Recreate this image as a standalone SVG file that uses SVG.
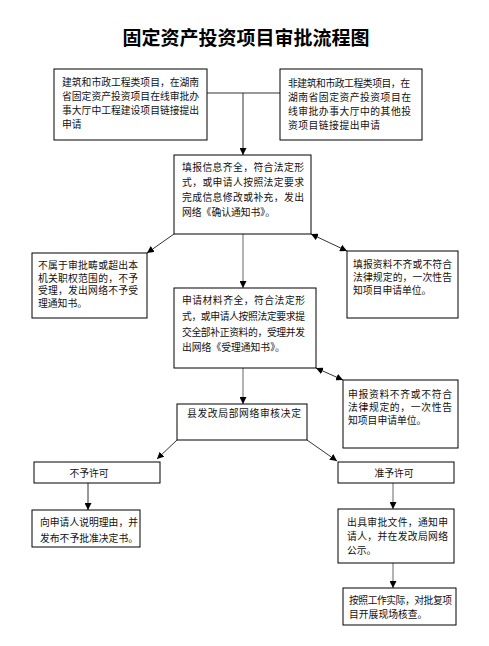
<svg xmlns="http://www.w3.org/2000/svg" width="489" height="646" viewBox="0 0 489 646">
<style>
.bg{fill:#fff}
.box{fill:#fff;stroke:#000;stroke-width:1}
.t{font-family:"Noto Sans CJK SC","Liberation Sans",sans-serif;font-size:9.8px;fill:#111}
.title{font-family:"Noto Sans CJK SC","Liberation Sans",sans-serif;font-size:19px;font-weight:700;fill:#000}
.c{fill:none;stroke:#333;stroke-width:1}
.g{fill:none;stroke:#666;stroke-width:1}
</style>
<defs>
<marker id="ah" viewBox="0 0 10 10" refX="10" refY="5" markerWidth="7" markerHeight="7" markerUnits="userSpaceOnUse" orient="auto-start-reverse">
<path d="M0,0 L10,5 L0,10 z" fill="#000"/>
</marker>
</defs>
<rect class="bg" x="0" y="0" width="489" height="646"/>
<text class="title" x="246" y="45" text-anchor="middle">固定资产投资项目审批流程图</text>

<g id="connectors">
<line class="c" x1="207" y1="93" x2="280" y2="93"/>
<line class="c" x1="243" y1="93" x2="243" y2="155" marker-end="url(#ah)"/>
<line class="c" x1="174" y1="234" x2="147" y2="253" marker-end="url(#ah)"/>
<line class="c" x1="311" y1="234" x2="347" y2="251" marker-start="url(#ah)" marker-end="url(#ah)"/>
<line class="g" x1="243" y1="234" x2="243" y2="288" marker-end="url(#ah)"/>
<line class="c" x1="316" y1="368" x2="343" y2="380" marker-start="url(#ah)" marker-end="url(#ah)"/>
<line class="g" x1="243" y1="368" x2="243" y2="404" marker-end="url(#ah)"/>
<line class="c" x1="177" y1="440" x2="157" y2="459" marker-end="url(#ah)"/>
<line class="c" x1="307" y1="440" x2="337" y2="461" marker-end="url(#ah)"/>
<line class="c" x1="88" y1="483" x2="88" y2="510" marker-end="url(#ah)"/>
<line class="g" x1="393" y1="483" x2="393" y2="509" marker-end="url(#ah)"/>
<line class="g" x1="393" y1="563" x2="393" y2="588" marker-end="url(#ah)"/>
</g>

<g id="n1">
<rect class="box" x="54" y="69" width="153" height="71"/>
<text class="t"><tspan x="62" y="86">建筑和市政工程类项目，在湖南</tspan><tspan x="62" y="100">省固定资产投资项目在线审批办</tspan><tspan x="62" y="114">事大厅中工程建设项目链接提出</tspan><tspan x="62" y="128">申请</tspan></text>
</g>
<g id="n2">
<rect class="box" x="280" y="69" width="142" height="71"/>
<text class="t"><tspan x="288" y="87" textLength="122" lengthAdjust="spacing">非建筑和市政工程类项目，在</tspan><tspan x="288" y="101" textLength="123" lengthAdjust="spacing">湖南省固定资产投资项目在</tspan><tspan x="288" y="115" textLength="123" lengthAdjust="spacing">线审批办事大厅中的其他投</tspan><tspan x="288" y="129" textLength="92" lengthAdjust="spacing">资项目链接提出申请</tspan></text>
</g>
<g id="n3">
<rect class="box" x="174" y="155" width="137" height="79"/>
<text class="t"><tspan x="182" y="171" textLength="122" lengthAdjust="spacing">填报信息齐全，符合法定形</tspan><tspan x="182" y="186" textLength="122" lengthAdjust="spacing">式，或申请人按照法定要求</tspan><tspan x="182" y="201" textLength="122" lengthAdjust="spacing">完成信息修改或补充，发出</tspan><tspan x="182" y="216">网络《确认通知书》。</tspan></text>
</g>
<g id="n4">
<rect class="box" x="32" y="253" width="115" height="65"/>
<text class="t"><tspan x="38" y="269" textLength="100" lengthAdjust="spacing">不属于审批畴或超出本</tspan><tspan x="38" y="281.5" textLength="100" lengthAdjust="spacing">机关职权范围的，不予</tspan><tspan x="38" y="294" textLength="100" lengthAdjust="spacing">受理，发出网络不予受</tspan><tspan x="38" y="306.5">理通知书。</tspan></text>
</g>
<g id="n5">
<rect class="box" x="347" y="251" width="111" height="67"/>
<text class="t"><tspan x="353" y="268" textLength="99" lengthAdjust="spacing">填报资料不齐或不符合</tspan><tspan x="353" y="281" textLength="99" lengthAdjust="spacing">法律规定的，一次性告</tspan><tspan x="353" y="294">知项目申请单位。</tspan></text>
</g>
<g id="n6">
<rect class="box" x="174" y="288" width="142" height="80"/>
<text class="t"><tspan x="182" y="304" textLength="123" lengthAdjust="spacing">申请材料齐全，符合法定形</tspan><tspan x="182" y="320" textLength="123" lengthAdjust="spacing">式，或申请人按照法定要求提</tspan><tspan x="182" y="336" textLength="123" lengthAdjust="spacing">交全部补正资料的，受理并发</tspan><tspan x="182" y="351">出网络《受理通知书》。</tspan></text>
</g>
<g id="n7">
<rect class="box" x="343" y="380" width="115" height="68"/>
<text class="t"><tspan x="348" y="398" textLength="104" lengthAdjust="spacing">申报资料不齐或不符合</tspan><tspan x="348" y="411" textLength="104" lengthAdjust="spacing">法律规定的，一次性告</tspan><tspan x="348" y="424">知项目申请单位。</tspan></text>
</g>
<g id="n8">
<rect class="box" x="177" y="404" width="130" height="36"/>
<text class="t" x="244" y="417" text-anchor="middle" textLength="114" lengthAdjust="spacing">县发改局部网络审核决定</text>
</g>
<g id="n9">
<rect class="box" x="34" y="462" width="126" height="21"/>
<text class="t" x="89" y="477" text-anchor="middle">不予许可</text>
</g>
<g id="n10">
<rect class="box" x="338" y="462" width="116" height="21"/>
<text class="t" x="394" y="477" text-anchor="middle">准予许可</text>
</g>
<g id="n11">
<rect class="box" x="32" y="510" width="108" height="37"/>
<text class="t"><tspan x="40" y="526" textLength="98" lengthAdjust="spacing">向申请人说明理由，并</tspan><tspan x="40" y="542" textLength="98" lengthAdjust="spacing">发布不予批准决定书。</tspan></text>
</g>
<g id="n12">
<rect class="box" x="338" y="509" width="116" height="54"/>
<text class="t"><tspan x="347" y="526" textLength="101" lengthAdjust="spacing">出具审批文件，通知申</tspan><tspan x="347" y="540" textLength="101" lengthAdjust="spacing">请人，并在发改局网络</tspan><tspan x="347" y="554">公示。</tspan></text>
</g>
<g id="n13">
<rect class="box" x="343" y="588" width="113" height="37"/>
<text class="t"><tspan x="349" y="604" textLength="103" lengthAdjust="spacing">按照工作实际，对批复项</tspan><tspan x="349" y="618">目开展现场核查。</tspan></text>
</g>
</svg>
